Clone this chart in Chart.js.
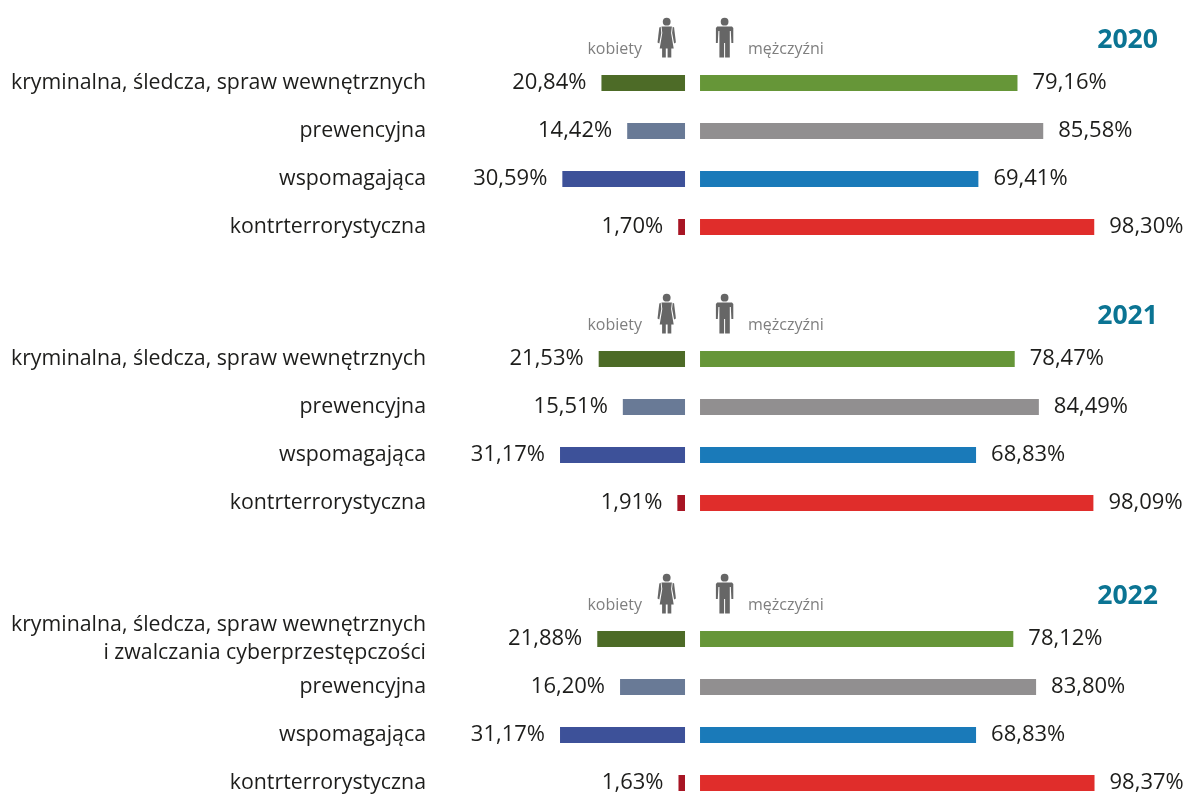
<!DOCTYPE html>
<html lang="pl">
<head>
<meta charset="utf-8">
<title>Struktura zatrudnienia</title>
<script src="https://cdn.jsdelivr.net/npm/chart.js@4/dist/chart.umd.min.js"></script>
<style>
html, body { margin: 0; padding: 0; width: 1185px; height: 794px; overflow: hidden; background: #fff; }
canvas { position: absolute; left: 0; }
</style>
</head>
<body>
<canvas id="c2020" width="1185" height="251" style="top:0"></canvas>
<canvas id="c2021" width="1185" height="251" style="top:276px"></canvas>
<canvas id="c2022" width="1185" height="251" style="top:556px"></canvas>
<script>
var years = ['2020', '2021', '2022'];

var categories = ['kryminalna, śledcza, spraw wewnętrznych', 'prewencyjna', 'wspomagająca', 'kontrterrorystyczna'];
var categories2022 = [['kryminalna, śledcza, spraw wewnętrznych', 'i zwalczania cyberprzestępczości'], 'prewencyjna', 'wspomagająca', 'kontrterrorystyczna'];

var women2020 = [20.84, 14.42, 30.59, 1.70];
var men2020 = [79.16, 85.58, 69.41, 98.30];
var women2021 = [21.53, 15.51, 31.17, 1.91];
var men2021 = [78.47, 84.49, 68.83, 98.09];
var women2022 = [21.88, 16.20, 31.17, 1.63];
var men2022 = [78.12, 83.80, 68.83, 98.37];

var womenColors = ['#4d6b27', '#697a96', '#3d5199', '#a81524'];
var menColors = ['#669638', '#918f90', '#1a7ab9', '#e02d2b'];

var FONT = '"Open Sans", sans-serif';
var TEXT = '#1d1d1b';
var GAP = 1.87; // half of the white strip between the two sides, in % units

function fmt(v) {
	return v.toFixed(2).replace('.', ',') + '%';
}

function poly(ctx, pts) {
	ctx.beginPath();
	ctx.moveTo(pts[0][0], pts[0][1]);
	for (var i = 1; i < pts.length; i++) ctx.lineTo(pts[i][0], pts[i][1]);
	ctx.closePath();
	ctx.fill();
}

function drawWoman(ctx, x) {
	ctx.save();
	ctx.translate(x, 0);
	ctx.fillStyle = '#666666';
	ctx.beginPath();
	ctx.arc(0, 21.7, 3.9, 0, Math.PI * 2);
	ctx.fill();
	poly(ctx, [[-5.2, 26.5], [5.2, 26.5], [4.4, 33], [7, 48.5], [4.6, 48.5], [4.6, 57.5], [0.9, 57.5], [0.9, 48.5], [-0.9, 48.5], [-0.9, 57.5], [-4.6, 57.5], [-4.6, 48.5], [-7, 48.5], [-4.4, 33]]);
	poly(ctx, [[-6, 26.8], [-7.4, 27.4], [-9.2, 42.6], [-7.4, 43.4], [-5.4, 33]]);
	poly(ctx, [[6, 26.8], [7.4, 27.4], [9.2, 42.6], [7.4, 43.4], [5.4, 33]]);
	ctx.restore();
}

function drawMan(ctx, x) {
	ctx.save();
	ctx.translate(x, 0);
	ctx.fillStyle = '#666666';
	ctx.beginPath();
	ctx.arc(0, 21.7, 3.9, 0, Math.PI * 2);
	ctx.fill();
	poly(ctx, [[-7.4, 26.5], [7.4, 26.5], [8.7, 28], [8.7, 43], [6.8, 43], [6.2, 31], [5.2, 31], [5.2, 57.5], [0.5, 57.5], [0.5, 43], [-0.5, 43], [-0.5, 57.5], [-5.2, 57.5], [-5.2, 31], [-6.2, 31], [-6.8, 43], [-8.7, 43], [-8.7, 28]]);
	ctx.restore();
}

var decor = {
	id: 'decor',
	afterDatasetsDraw: function(chart) {
		var ctx = chart.ctx;
		var o = chart.options.plugins.decor;
		ctx.save();
		ctx.textBaseline = 'middle';
		ctx.font = '22px ' + FONT;
		ctx.fillStyle = TEXT;
		chart.getDatasetMeta(0).data.forEach(function(el, i) {
			ctx.textAlign = 'right';
			ctx.fillText(fmt(o.women[i]), Math.min(el.x, el.base) - 15, el.y);
		});
		chart.getDatasetMeta(1).data.forEach(function(el, i) {
			ctx.textAlign = 'left';
			ctx.fillText(fmt(o.men[i]), Math.max(el.x, el.base) + 15, el.y);
		});

		ctx.font = '16px ' + FONT;
		ctx.fillStyle = '#7f7f7f';
		ctx.textAlign = 'right';
		ctx.fillText('kobiety', 642, 49.5);
		ctx.textAlign = 'left';
		ctx.fillText('mężczyźni', 748, 49.5);

		ctx.font = 'bold 26.6px ' + FONT;
		ctx.fillStyle = '#0b7493';
		ctx.textAlign = 'right';
		ctx.fillText(o.year, 1158, 40);

		drawWoman(ctx, 666.7);
		drawMan(ctx, 724.6);
		ctx.restore();
	}
};

function makeChart(year, labels, women, men) {
	new Chart(document.getElementById('c' + year), {
		type: 'bar',
		plugins: [decor],
		data: {
			labels: labels,
			datasets: [
				{
					label: 'kobiety',
					data: women.map(function(v) { return [-GAP - v, -GAP]; }),
					backgroundColor: womenColors,
					grouped: false,
					inflateAmount: 0,
					barThickness: 16
				},
				{
					label: 'mężczyźni',
					data: men.map(function(v) { return [GAP, GAP + v]; }),
					backgroundColor: menColors,
					grouped: false,
					inflateAmount: 0,
					barThickness: 16
				}
			]
		},
		options: {
			indexAxis: 'y',
			responsive: false,
			animation: false,
			devicePixelRatio: 1,
			layout: { padding: { top: 59, bottom: 0, left: 0, right: 0 } },
			scales: {
				x: {
					display: false,
					min: -65.46,
					max: 122.8
				},
				y: {
					afterFit: function(scale) {
						scale.width = 430;
						scale.paddingTop = 0;
						scale.paddingBottom = 0;
					},
					grid: { display: false, drawTicks: false },
					border: { display: false },
					ticks: {
						autoSkip: false,
						padding: 4,
						color: TEXT,
						font: { family: FONT, size: 21.33, lineHeight: '28px' }
					}
				}
			},
			plugins: {
				legend: { display: false },
				tooltip: { enabled: false },
				decor: { year: year, women: women, men: men }
			}
		}
	});
}

makeChart(years[0], categories, women2020, men2020);
makeChart(years[1], categories, women2021, men2021);
makeChart(years[2], categories2022, women2022, men2022);
</script>
</body>
</html>
